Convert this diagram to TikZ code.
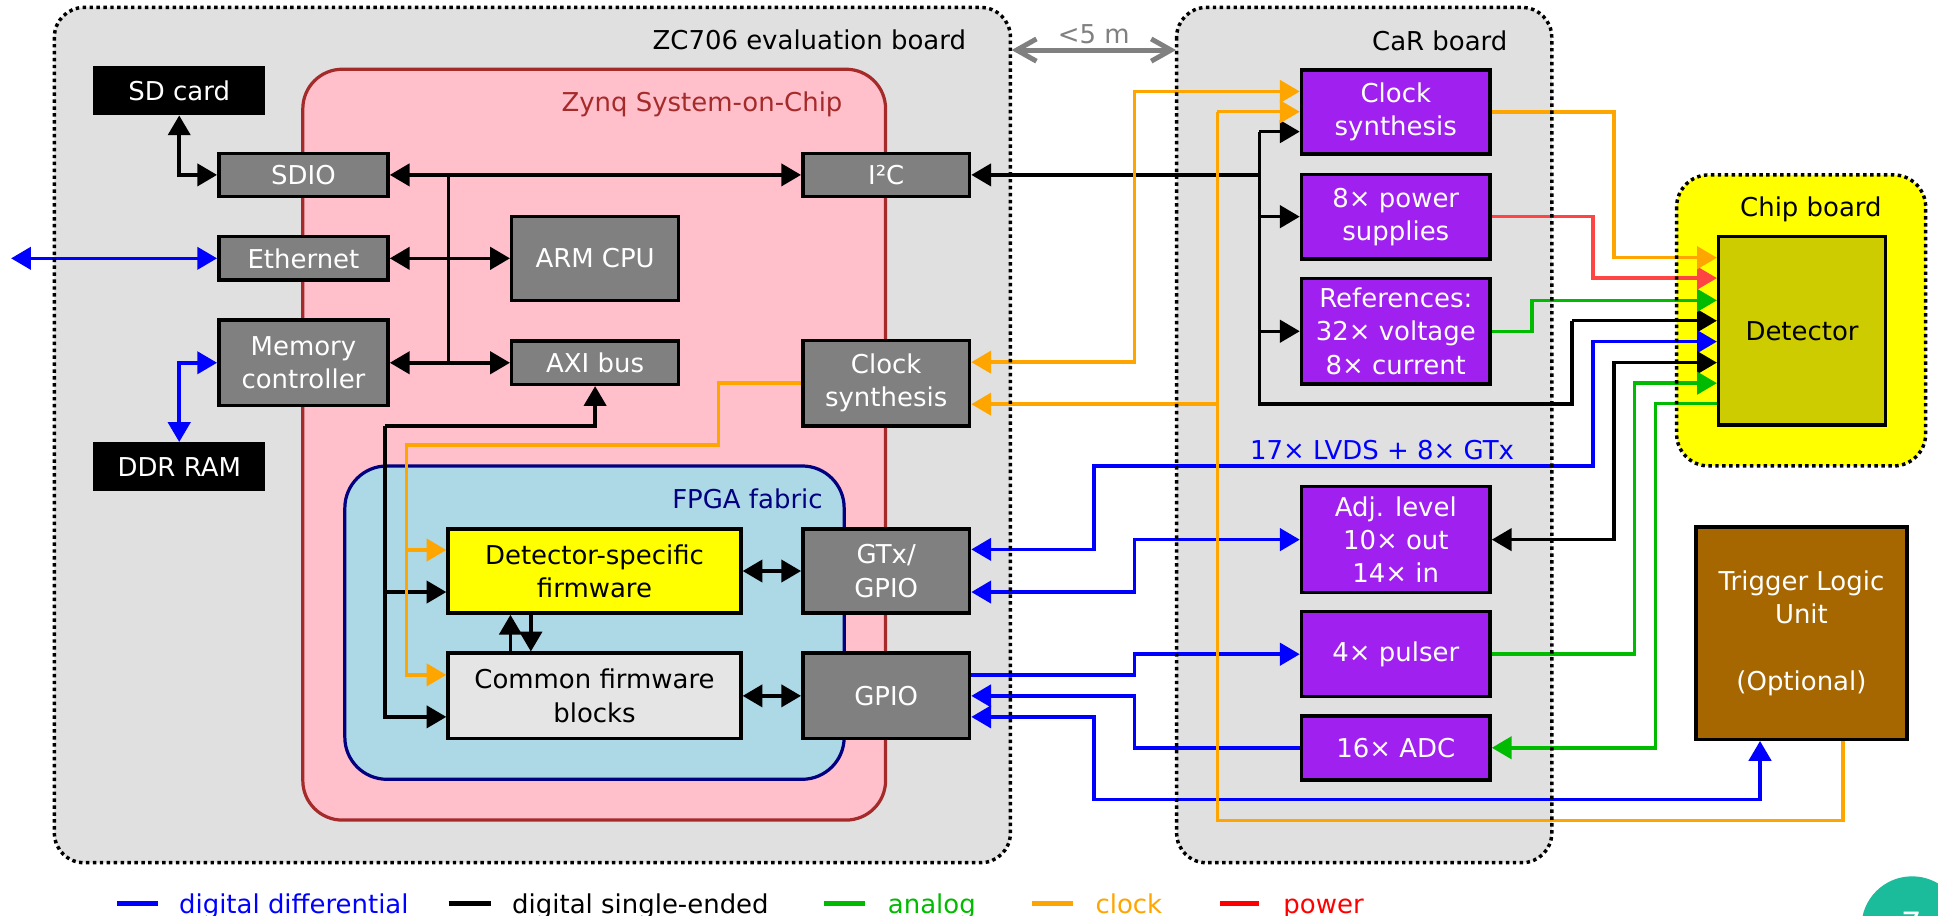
\documentclass[tikz,border=0pt]{standalone}
\usepackage{fontspec}
\setmainfont{DejaVu Sans}
\usetikzlibrary{arrows.meta}
\definecolor{boardgray}{HTML}{E0E0E0}
\definecolor{zynqpink}{HTML}{FFC0CB}
\definecolor{zynqbrown}{HTML}{A52A2A}
\definecolor{fpgablue}{HTML}{ADD8E6}
\definecolor{fpganavy}{HTML}{000080}
\definecolor{boxgray}{HTML}{808080}
\definecolor{carpurple}{HTML}{A020F0}
\definecolor{detolive}{HTML}{CCCC00}
\definecolor{fwgray}{HTML}{E5E5E5}
\definecolor{tlubrown}{HTML}{A66600}
\definecolor{chipyellow}{HTML}{FFFF00}
\definecolor{lblue}{HTML}{0000FF}
\definecolor{lgreen}{HTML}{00BB00}
\definecolor{lorange}{HTML}{FFA500}
\definecolor{lred}{HTML}{FF4444}
\definecolor{legred}{HTML}{FF0000}
\definecolor{badgeteal}{HTML}{1ABC9C}
\definecolor{distgray}{HTML}{808080}
\newcommand\dfs{\fontsize{10.5pt}{13.4pt}\selectfont}
\begin{document}
\begin{tikzpicture}[x=0.5pt,y=-0.5pt,font=\dfs,
  >={Triangle[length=8pt,width=9pt]},
  blk/.style={draw=black,line width=1.4pt,inner sep=0pt,align=center},
  graybox/.style={blk,fill=boxgray,text=white},
  blackbox/.style={blk,fill=black,text=white},
  purplebox/.style={blk,fill=carpurple,text=white},
  wire/.style={line width=1.4pt},
  sigline/.style={wire,draw=black},
  difline/.style={wire,draw=lblue},
  analine/.style={wire,draw=lgreen},
  clkline/.style={wire,draw=lorange},
  pwrline/.style={wire,draw=lred},
  dotborder/.style={draw=black,line width=1.4pt,dash pattern=on 1.4pt off 1.4pt},
  title/.style={inner sep=0pt},
  legline/.style={line width=1.8pt},
]
\fill[white] (0,0) rectangle (1568,741);
\useasboundingbox (0,0) rectangle (1568,741);

% ---------- containers ----------
\fill[boardgray,rounded corners=12pt] (44,6) rectangle (817.5,698);
\fill[boardgray,rounded corners=12pt] (952,6) rectangle (1255.5,698);
\fill[chipyellow,rounded corners=13pt] (1356.5,141.5) rectangle (1558,377);
\draw[fill=zynqpink,draw=zynqbrown,line width=1.3pt,rounded corners=16pt] (245,56) rectangle (716.5,663.5);
\draw[fill=fpgablue,draw=fpganavy,line width=1.3pt,rounded corners=17pt] (279,377) rectangle (683,630.5);

\node[title,anchor=base east] (zctitle) at (782,40) {ZC706 evaluation board};
\node[title,anchor=base east] (cartitle) at (1220,40.5) {CaR board};
\node[title,anchor=base east] (chiptitle) at (1522.8,174.8) {Chip board};
\node[title,anchor=base east,text=zynqbrown] (zynqtitle) at (682,90.6) {Zynq System-on-Chip};
\node[title,anchor=base east,text=fpganavy] (fpgatitle) at (666,411) {FPGA fabric};

% ---------- blocks ----------
\node[blackbox,minimum width=68pt,minimum height=18.5pt] (sdcard) at (145,73.5) {SD card};
\node[blackbox,minimum width=68pt,minimum height=18.5pt] (ddr) at (145,377.5) {DDR RAM};
\node[graybox,minimum width=68.5pt,minimum height=17.5pt] (sdio) at (245.5,141.5) {SDIO};
\node[graybox,minimum width=68.5pt,minimum height=17.5pt] (eth) at (245.5,209) {Ethernet};
\node[graybox,minimum width=68.5pt,minimum height=34.5pt] (mem) at (245.5,293.5) {Memory\\controller};
\node[graybox,minimum width=67.5pt,minimum height=34pt] (arm) at (481.5,209) {ARM CPU};
\node[graybox,minimum width=67.5pt,minimum height=17.5pt] (axi) at (481.5,293.5) {AXI bus};
\node[graybox,minimum width=67.5pt,minimum height=17.5pt] (i2c) at (717,141.5) {I²C};
\node[graybox,minimum width=67.5pt,minimum height=34.5pt] (zclk) at (717,310) {Clock\\synthesis};
\node[graybox,minimum width=67.5pt,minimum height=34pt] (gtx) at (717,462) {GTx/\\GPIO};
\node[graybox,minimum width=67.5pt,minimum height=34.5pt] (gpio) at (717,563) {GPIO};
\node[blk,fill=chipyellow,minimum width=118.5pt,minimum height=34pt] (dsf) at (481,462) {Detector-specific\\firmware};
\node[blk,fill=fwgray,minimum width=118.5pt,minimum height=34.5pt] (cfb) at (481,563) {Common firmware\\blocks};

\node[purplebox,minimum width=76.3pt,minimum height=34pt] (cclk) at (1129.3,90.6) {Clock\\synthesis};
\node[purplebox,minimum width=76.3pt,minimum height=34.3pt] (pwr) at (1129.3,175.3) {8× power\\supplies};
\node[purplebox,minimum width=76.3pt,minimum height=42.8pt] (ref) at (1129.3,268) {References:\\32× voltage\\8× current};
\node[purplebox,minimum width=76.3pt,minimum height=42.8pt] (adj) at (1129.3,436.6) {Adj. level\\10× out\\14× in};
\node[purplebox,minimum width=76.3pt,minimum height=34.4pt] (pulser) at (1129.3,529.3) {4× pulser};
\node[purplebox,minimum width=76.3pt,minimum height=25.9pt] (adc) at (1129.3,605) {16× ADC};

\node[blk,fill=detolive,minimum width=67.5pt,minimum height=76.2pt] (det) at (1458,267.7) {Detector};
\node[blk,fill=tlubrown,text=white,minimum width=85.5pt,minimum height=85.8pt] (tlu) at (1457.5,512.3) {Trigger Logic\\Unit\\[13.4pt](Optional)};

% ---------- Zynq internal (black) ----------
\draw[sigline,<->] (sdcard.south) |- (sdio.west);
\draw[sigline,<->] (sdio.east) -- (i2c.west);
\draw[sigline,<->] (eth.east) -- (arm.west);
\draw[sigline,<->] (mem.east) -- (axi.west);
\draw[sigline] (363,141.5) -- (363,293.5);
\draw[sigline,->] (311.5,344.5) -- (481.5,344.5) -- (axi.south);
\draw[sigline,->] (311.5,344.5) -- (311.5,580) -- (cfb.west|-0,580);
\draw[sigline,->] (311.5,479) -- (dsf.west|-0,479);
\draw[sigline,->] (cfb.north-|413,0) -- (dsf.south-|413,0);
\draw[sigline,->] (dsf.south-|429.5,0) -- (cfb.north-|429.5,0);
\draw[sigline,<->] (dsf.east) -- (gtx.west);
\draw[sigline,<->] (cfb.east) -- (gpio.west);

% zynq clock distribution
\draw[clkline,->] (zclk.west) -- (581.5,310) -- (581.5,360) -- (329,360) -- (329,546) -- (cfb.west|-0,546);
\draw[clkline,->] (329,445) -- (dsf.west|-0,445);

% ---------- I2C bus to CaR and detector ----------
\draw[sigline,<-] (i2c.east) -- (1019,141.5);
\draw[sigline] (1019,106.5) -- (1019,327) -- (1272,327) -- (1272,259.5);
\draw[sigline,->] (1019,106.5) -- (cclk.west|-0,106.5);
\draw[sigline,->] (1019,175.3) -- (pwr.west);
\draw[sigline,->] (1019,268) -- (ref.west);
\draw[sigline,->] (1272,259.5) -- (det.west|-0,259.5);

% ---------- blue (digital differential) ----------
\coordinate (ext) at (9,209);
\draw[difline,<->] (ext) -- (eth.west);
\draw[difline,<->] (mem.west) -| (ddr.north);
\draw[difline,<->] (gtx.east|-0,444.5) -- (885,444.5) -- (885,377) -- (1289,377) -- (1289,276.4) -- (det.west|-0,276.4);
\draw[difline,<->] (gtx.east|-0,479) -- (918,479) -- (918,436.6) -- (adj.west);
\draw[difline,->] (gpio.east|-0,546) -- (918,546) -- (918,529.3) -- (pulser.west);
\draw[difline,->] (adc.west) -- (918,605) -- (918,563) -- (gpio.east);
\draw[difline,<->] (gpio.east|-0,580) -- (885,580) -- (885,647) -- (1424,647) -- (tlu.south-|1424,0);
\node[title,anchor=base west,text=lblue] (lvds) at (1011,372) {17× LVDS + 8× GTx};

% ---------- detector inputs ----------
\draw[sigline,<->] (adj.east) -- (1306,436.6) -- (1306,293.4) -- (det.west|-0,293.4);
\draw[pwrline,->] (pwr.east) -- (1289,175.3) -- (1289,225) -- (det.west|-0,225);
\draw[analine,->] (ref.east) -- (1239.5,268) -- (1239.5,243) -- (det.west|-0,243);
\draw[analine,->] (pulser.east) -- (1322.5,529.3) -- (1322.5,310) -- (det.west|-0,310);
\draw[analine,->] (det.west|-0,326.5) -- (1339.5,326.5) -- (1339.5,605) -- (adc.east);

% ---------- clocks ----------
\draw[clkline,->] (cclk.east|-0,90.5) -- (1306,90.5) -- (1306,208.5) -- (det.west|-0,208.5);
\draw[clkline,<->] (zclk.east|-0,293) -- (918,293) -- (918,74) -- (cclk.west|-0,74);
\draw[clkline] (tlu.south-|1491,0) -- (1491,664) -- (985,664) -- (985,90.4);
\draw[clkline,->] (985,90.4) -- (cclk.west|-0,90.4);
\draw[clkline,->] (985,327) -- (zclk.east|-0,327);

% ---------- dotted borders on top ----------
\draw[dotborder,rounded corners=12pt] (44,6) rectangle (817.5,698);
\draw[dotborder,rounded corners=12pt] (952,6) rectangle (1255.5,698);
\draw[dotborder,rounded corners=13pt] (1356.5,141.5) rectangle (1558,377);

% ---------- distance ----------
\coordinate (zcedge) at (818.5,40.5);
\coordinate (caredge) at (951.5,40.5);
\draw[draw=distgray,line width=2pt,{Straight Barb[length=8pt,width=9pt]}-{Straight Barb[length=8pt,width=9pt]}] (zcedge) -- (caredge);
\node[title,anchor=base,text=distgray] (dist) at (885,35.5) {<5 m};

% ---------- legend ----------
\draw[legline,draw=lblue] (95,731) -- (128,731);
\node[title,anchor=base west,text=lblue] (leg1) at (144.5,739) {digital differential};
\draw[legline,draw=black] (363,731) -- (397,731);
\node[title,anchor=base west,text=black] (leg2) at (414,739) {digital single-ended};
\draw[legline,draw=lgreen] (667,731) -- (700,731);
\node[title,anchor=base west,text=lgreen] (leg3) at (718,739) {analog};
\draw[legline,draw=lorange] (835,731) -- (868,731);
\node[title,anchor=base west,text=lorange] (leg4) at (886,739) {clock};
\draw[legline,draw=legred] (987,731) -- (1019,731);
\node[title,anchor=base west,text=legred] (leg5) at (1038,739) {power};

% ---------- page badge ----------
\fill[badgeteal] (1547,750) circle (20.5pt);
\node[title,text=white,font=\fontsize{13pt}{15pt}\selectfont] (badge) at (1547,747) {7};
\end{tikzpicture}
\end{document}
